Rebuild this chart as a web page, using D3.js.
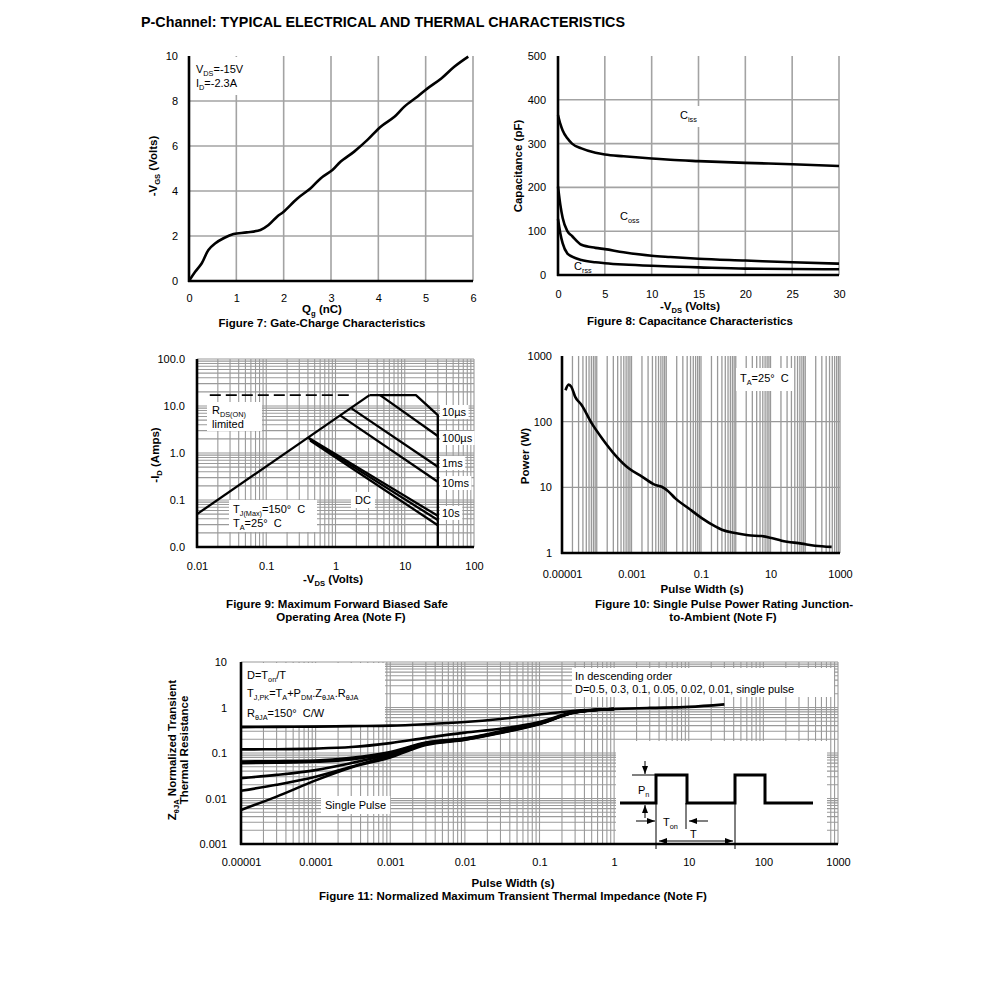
<!DOCTYPE html>
<html><head><meta charset="utf-8">
<script src="https://cdn.jsdelivr.net/npm/d3@7"></script>
<style>body{margin:0;background:#fff}</style>
</head><body>
<script>
// ================= DATA =================
// Figure 7: gate charge
const fig7Qg  = [0,0.13,0.27,0.41,0.55,0.73,0.94,1.22,1.51,1.68,1.86,2.0,2.29,2.57,2.78,3.03,3.2,3.49,3.77,4.05,4.34,4.55,4.83,5.04,5.33,5.61,5.9];
const fig7Vgs = [0,0.41,0.79,1.38,1.67,1.9,2.09,2.16,2.27,2.49,2.86,3.08,3.67,4.12,4.56,4.93,5.3,5.75,6.27,6.86,7.3,7.75,8.2,8.56,9.0,9.53,9.97];
const fig7XTicks = [0,1,2,3,4,5,6];
const fig7YTicks = [0,2,4,6,8,10];

// Figure 8: capacitance
const fig8Vds  = [0,0.25,0.5,1,1.5,2.5,4,5,7,10,12,15,20,25,30];
const fig8Ciss = [365,345,330,312,300,289,279,275,271,266,263,260,256,253,249];
const fig8Coss = [202,160,130,100,89,69,62,59,52,44,41,37,33,29,26];
const fig8Crss = [128,95,72,49,42,34,29,27,24,21,19.5,17.5,14.5,13.7,13];
const fig8XTicks = [0,5,10,15,20,25,30];
const fig8YTicks = [0,100,200,300,400,500];

// Figure 9: SOA (V, A)
const fig9DashV = [0.0153,1.78], fig9DashI = [17,17];
const fig9RdsV  = [0.01,3.1],    fig9RdsI  = [0.05,17];
const fig9Us10V  = [3.1,14.5,30,30], fig9Us10I = [17,17,6.4,0.01];
const fig9Us100V = [4.4,30],  fig9Us100I = [17,2.3];
const fig9Ms1V   = [1.7,30],  fig9Ms1I   = [8.9,0.51];
const fig9Ms10V  = [1.15,30], fig9Ms10I  = [6.4,0.245];
const fig9S10V   = [0.40,30], fig9S10I   = [2.15,0.046];
const fig9DcAV   = [0.415,30], fig9DcAI  = [2.0,0.0375];
const fig9DcBV   = [0.43,30], fig9DcBI   = [1.85,0.029];
const fig9XTicks = [0.01,0.1,1,10,100];
const fig9XLabels = ['0.01','0.1','1','10','100'];
const fig9YTicks = [0.01,0.1,1,10,100];
const fig9YLabels = ['0.0','0.1','1.0','10.0','100.0'];

// Figure 10: single pulse power
const fig10T = [1.26e-5,1.55e-5,1.86e-5,2.4e-5,3.7e-5,7.2e-5,1.41e-4,3.39e-4,8.3e-4,2.0e-3,4.8e-3,7.4e-3,0.0117,0.0182,0.0437,0.105,0.257,0.398,0.955,2.29,5.6,10.7,20.9,79,190,575];
const fig10P = [301,367,339,239,178,94,56,31,19.5,14.6,10.9,10.2,8.6,6.8,4.8,3.4,2.54,2.26,2.01,1.86,1.81,1.69,1.54,1.39,1.29,1.24];
const fig10XTicks = [0.00001,0.001,0.1,10,1000];
const fig10XLabels = ['0.00001','0.001','0.1','10','1000'];
const fig10YTicks = [1,10,100,1000];
const fig10YLabels = ['1','10','100','1000'];

// Figure 11: transient thermal impedance
const fig11T      = [0.00001,0.00003,0.0001,0.0003,0.001,0.003,0.01,0.03,0.1,0.3,1,3,10,30];
const fig11D05    = [0.37,0.375,0.38,0.39,0.40,0.43,0.48,0.56,0.70,0.85,0.93,0.98,1.03,1.17];
const fig11D03    = [0.12,0.121,0.125,0.135,0.165,0.215,0.28,0.34,0.48,0.8,0.93];
const fig11D01    = [0.065,0.066,0.068,0.078,0.105,0.17,0.21,0.30,0.46,0.79,0.93];
const fig11D005   = [0.06,0.061,0.064,0.072,0.10,0.165,0.205,0.29,0.45,0.79,0.93];
const fig11D002   = [0.028,0.033,0.042,0.06,0.095,0.16,0.2,0.285,0.44,0.79,0.93];
const fig11D001   = [0.0148,0.02,0.03,0.05,0.088,0.155,0.197,0.28,0.44,0.79,0.93];
const fig11Single = [0.0056,0.011,0.025,0.048,0.08,0.15,0.195,0.275,0.43,0.78,0.93];
const fig11XTicks = [0.00001,0.0001,0.001,0.01,0.1,1,10,100,1000];
const fig11XLabels = ['0.00001','0.0001','0.001','0.01','0.1','1','10','100','1000'];
const fig11YTicks = [0.001,0.01,0.1,1,10];
const fig11YLabels = ['0.001','0.01','0.1','1','10'];

// ================= DRAWING =================
const FONT = "'Liberation Sans', Arial, Helvetica, sans-serif";
const GRID = '#a3a3a3';
const CAP = 11.5;
const svg = d3.select('body').append('svg').attr('width',991).attr('height',995);
svg.append('rect').attr('width',991).attr('height',995).attr('fill','#fff');

const defs = svg.append('defs');
defs.append('marker').attr('id','arr').attr('viewBox','0 0 8 6').attr('refX',8).attr('refY',3)
  .attr('markerWidth',8).attr('markerHeight',6).attr('markerUnits','userSpaceOnUse').attr('orient','auto-start-reverse')
  .append('path').attr('d','M0,0 L8,3 L0,6 z').attr('fill','#000');

function txt(g, x, y, parts, o={}) {
  const fs = o.size || 11;
  const t = g.append('text').attr('x',x).attr('y',y).attr('font-family',FONT).attr('font-size',fs)
    .attr('font-weight',o.bold?'bold':'normal').attr('text-anchor',o.anchor||'start').attr('fill','#000')
    .style('white-space','pre');
  if (o.rotate) t.attr('transform',`rotate(-90 ${x} ${y})`);
  if (typeof parts === 'string') parts = [parts];
  let shift = 0;
  parts.forEach(p => {
    const isSub = Array.isArray(p);
    const s = isSub ? p[0] : p;
    const target = isSub ? Math.round(fs*0.3) : 0;
    const ts = t.append('tspan').text(s).attr('dy', target - shift);
    if (isSub) ts.attr('font-size', (fs*0.66).toFixed(1));
    shift = target;
  });
  return t;
}
function boxed(g, x, y, parts, o={}, pad=[2,1]) {
  const t = txt(g,x,y,parts,o);
  const b = t.node().getBBox();
  g.insert('rect', () => t.node()).attr('x', b.x-pad[0]).attr('y', b.y-pad[1])
    .attr('width', b.width+2*pad[0]).attr('height', b.height+2*pad[1]).attr('fill','#fff');
  return t;
}
function vgrid(g, x, vals, y0, y1, color, w) {
  g.append('g').selectAll('line').data(vals).join('line')
    .attr('x1',d=>x(d)).attr('x2',d=>x(d)).attr('y1',y0).attr('y2',y1)
    .attr('stroke',color).attr('stroke-width',w);
}
function hgrid(g, y, vals, x0, x1, color, w) {
  g.append('g').selectAll('line').data(vals).join('line')
    .attr('y1',d=>y(d)).attr('y2',d=>y(d)).attr('x1',x0).attr('x2',x1)
    .attr('stroke',color).attr('stroke-width',w);
}
function logMinor(lo, hi) {
  const out=[];
  for (let e=Math.floor(Math.log10(lo)); e<=Math.ceil(Math.log10(hi)); e++)
    for (let k=1;k<=9;k++){ const v=k*Math.pow(10,e); if (v>=lo*0.999 && v<=hi*1.001) out.push(v); }
  return out;
}
function styleAxis(sel){ sel.select('.domain').remove(); sel.attr('font-family',FONT).attr('font-size',11);
  sel.selectAll('text').attr('fill','#000'); }
function axes(g, x, y, xt, xl, yt, yl, padX, padY) {
  const xr = x.range(), yr = y.range();
  g.append('g').attr('transform',`translate(0,${yr[0]})`)
    .call(d3.axisBottom(x).tickValues(xt).tickFormat((d,i)=>xl[i]).tickSize(0).tickPadding(padX)).call(styleAxis);
  g.append('g').attr('transform',`translate(${xr[0]},0)`)
    .call(d3.axisLeft(y).tickValues(yt).tickFormat((d,i)=>yl[i]).tickSize(0).tickPadding(padY)).call(styleAxis);
}
function frame(g, x, y) {
  const xr = x.range(), yr = y.range();
  g.append('line').attr('x1',xr[0]).attr('x2',xr[0]).attr('y1',yr[1]).attr('y2',yr[0]+1).attr('stroke','#000').attr('stroke-width',2.6);
  g.append('line').attr('x1',xr[0]-1).attr('x2',xr[1]).attr('y1',yr[0]).attr('y2',yr[0]).attr('stroke','#000').attr('stroke-width',2.6);
}
function curve(g, xs, ys, x, y, c, w) {
  g.append('path').datum(d3.zip(xs, ys))
    .attr('d', d3.line().x(d=>x(d[0])).y(d=>y(d[1])).curve(c))
    .attr('fill','none').attr('stroke','#000').attr('stroke-width',w||2.6).attr('stroke-linejoin','round');
}

// Title
txt(svg, 141, 27, 'P-Channel: TYPICAL ELECTRICAL AND THERMAL CHARACTERISTICS', {bold:true, size:14})
  .attr('textLength',484).attr('lengthAdjust','spacingAndGlyphs');

// ---------- Figure 7 ----------
{
  const g = svg.append('g');
  const x = d3.scaleLinear().domain([0,6]).range([189,473]);
  const y = d3.scaleLinear().domain([0,10]).range([281,56]);
  vgrid(g, x, fig7XTicks.slice(1), 56, 281, GRID, 1.6);
  hgrid(g, y, fig7YTicks.slice(1,-1), 189, 473, GRID, 1.6);
  g.append('rect').attr('x',191).attr('y',57).attr('width',57).attr('height',38).attr('fill','#fff');
  txt(g, 196, 73, ['V',['DS'],'=-15V']);
  txt(g, 196, 87, ['I',['D'],'=-2.3A']);
  curve(g, fig7Qg, fig7Vgs, x, y, d3.curveCatmullRom, 2.6);
  frame(g, x, y);
  axes(g, x, y, fig7XTicks, fig7XTicks.map(String), fig7YTicks, fig7YTicks.map(String), 13, 11);
  txt(g, 157, 166, ['-V',['GS'],' (Volts)'], {bold:true, anchor:'middle', rotate:true, size:CAP});
  txt(g, 322, 313, ['Q',['g'],' (nC)'], {bold:true, anchor:'middle', size:CAP});
  txt(g, 322, 327, 'Figure 7: Gate-Charge Characteristics', {bold:true, anchor:'middle', size:CAP});
}

// ---------- Figure 8 ----------
{
  const g = svg.append('g');
  const x = d3.scaleLinear().domain([0,30]).range([558,839]);
  const y = d3.scaleLinear().domain([0,500]).range([275,56]);
  vgrid(g, x, fig8XTicks.slice(1), 56, 275, GRID, 1.6);
  hgrid(g, y, fig8YTicks.slice(1,-1), 558, 839, GRID, 1.6);
  boxed(g, 680, 119, ['C',['iss']], {}, [3,3]);
  txt(g, 620, 220, ['C',['oss']]);
  txt(g, 574, 270, ['C',['rss']]);
  curve(g, fig8Vds, fig8Ciss, x, y, d3.curveMonotoneX, 2.6);
  curve(g, fig8Vds, fig8Coss, x, y, d3.curveMonotoneX, 2.6);
  curve(g, fig8Vds, fig8Crss, x, y, d3.curveMonotoneX, 2.6);
  frame(g, x, y);
  axes(g, x, y, fig8XTicks, fig8XTicks.map(String), fig8YTicks, fig8YTicks.map(String), 15, 12);
  txt(g, 522, 166, 'Capacitance (pF)', {bold:true, anchor:'middle', rotate:true, size:CAP});
  txt(g, 690, 310, ['-V',['DS'],' (Volts)'], {bold:true, anchor:'middle', size:CAP});
  txt(g, 690, 325, 'Figure 8: Capacitance Characteristics', {bold:true, anchor:'middle', size:CAP});
}

// ---------- Figure 9 ----------
{
  const g = svg.append('g');
  const x = d3.scaleLog().domain([0.01,100]).range([197,474]);
  const y = d3.scaleLog().domain([0.01,100]).range([547,359]);
  vgrid(g, x, logMinor(0.01,100).slice(1), 359, 547, '#9a9a9a', 1.1);
  hgrid(g, y, logMinor(0.01,100).slice(1), 197, 474, '#9a9a9a', 1.1);
  g.append('path').datum(d3.zip(fig9DashV, fig9DashI))
    .attr('d', d3.line().x(d=>x(d[0])).y(d=>y(d[1])))
    .attr('stroke','#000').attr('stroke-width',1.8).attr('stroke-dasharray','11,5').attr('fill','none');
  g.append('rect').attr('x',207).attr('y',402).attr('width',55).attr('height',29).attr('fill','#fff');
  txt(g, 212, 414, ['R',['DS(ON)']]);
  txt(g, 212, 428, 'limited');
  g.append('rect').attr('x',229).attr('y',500).attr('width',88).attr('height',32).attr('fill','#fff');
  txt(g, 233, 513, ['T',['J(Max)'],'=150°  C']);
  txt(g, 233, 527, ['T',['A'],'=25°  C']);
  boxed(g, 355, 504, 'DC', {}, [4,2]);
  [[fig9RdsV,fig9RdsI],[fig9Us10V,fig9Us10I],[fig9Us100V,fig9Us100I],[fig9Ms1V,fig9Ms1I],
   [fig9Ms10V,fig9Ms10I],[fig9S10V,fig9S10I],[fig9DcAV,fig9DcAI],[fig9DcBV,fig9DcBI]]
    .forEach(([vs,is]) => curve(g, vs, is, x, y, d3.curveLinear, 2.3));
  boxed(g, 442, 416, '10µs', {}, [2,1]);
  boxed(g, 442, 442, '100µs', {}, [2,1]);
  boxed(g, 442, 467, '1ms', {}, [2,1]);
  boxed(g, 442, 487, '10ms', {}, [2,1]);
  boxed(g, 442, 517, '10s', {}, [2,1]);
  frame(g, x, y);
  axes(g, x, y, fig9XTicks, fig9XLabels, fig9YTicks, fig9YLabels, 15, 12);
  txt(g, 159, 455, ['-I',['D'],' (Amps)'], {bold:true, anchor:'middle', rotate:true, size:CAP});
  txt(g, 333, 583, ['-V',['DS'],' (Volts)'], {bold:true, anchor:'middle', size:CAP});
  txt(g, 337, 608, 'Figure 9: Maximum Forward Biased Safe', {bold:true, anchor:'middle', size:CAP});
  txt(g, 341, 621, 'Operating Area (Note F)', {bold:true, anchor:'middle', size:CAP});
}

// ---------- Figure 10 ----------
{
  const g = svg.append('g');
  const x = d3.scaleLog().domain([1e-5,1000]).range([562,840]);
  const y = d3.scaleLog().domain([1,1000]).range([553,356]);
  vgrid(g, x, logMinor(1e-5,1000).slice(1), 356, 553, '#999', 1.3);
  hgrid(g, y, [10,100], 562, 840, '#999', 1.3);
  boxed(g, 740, 382, ['T',['A'],'=25°  C'], {}, [4,4]);
  curve(g, fig10T, fig10P, x, y, d3.curveMonotoneX, 2.6);
  frame(g, x, y);
  axes(g, x, y, fig10XTicks, fig10XLabels, fig10YTicks, fig10YLabels, 17, 10);
  txt(g, 529, 456, 'Power (W)', {bold:true, anchor:'middle', rotate:true, size:CAP});
  txt(g, 702, 593, 'Pulse Width (s)', {bold:true, anchor:'middle', size:CAP});
  txt(g, 724, 608, 'Figure 10: Single Pulse Power Rating Junction-', {bold:true, anchor:'middle', size:CAP});
  txt(g, 723, 621, 'to-Ambient (Note F)', {bold:true, anchor:'middle', size:CAP});
}

// ---------- Figure 11 ----------
{
  const g = svg.append('g');
  const x = d3.scaleLog().domain([1e-5,1000]).range([241,838]);
  const y = d3.scaleLog().domain([0.001,10]).range([844,662]);
  vgrid(g, x, logMinor(1e-5,1000).slice(1), 662, 844, '#9a9a9a', 1.1);
  hgrid(g, y, logMinor(0.001,10).slice(1), 241, 838, '#9a9a9a', 1.1);
  g.append('rect').attr('x',242).attr('y',663).attr('width',143).attr('height',62).attr('fill','#fff');
  txt(g, 247, 679, ['D=T',['on'],'/T']);
  txt(g, 247, 697, ['T',['J,PK'],'=T',['A'],'+P',['DM'],'.Z',['θJA'],'.R',['θJA']]);
  txt(g, 247, 717, ['R',['θJA'],'=150°  C/W']);
  g.append('rect').attr('x',572).attr('y',668).attr('width',262).attr('height',29).attr('fill','#fff');
  txt(g, 575, 680, 'In descending order');
  txt(g, 575, 693, 'D=0.5, 0.3, 0.1, 0.05, 0.02, 0.01, single pulse');
  boxed(g, 325, 809, 'Single Pulse', {}, [4,3]);
  [fig11D05, fig11D03, fig11D01, fig11D005, fig11D002, fig11D001, fig11Single]
    .forEach(s => curve(g, fig11T, s, x, y, d3.curveMonotoneX, 2.6));
  // inset: pulse diagram
  g.append('rect').attr('x',616).attr('y',741).attr('width',211).attr('height',103).attr('fill','#fff');
  const wave = [[620,803],[656,803],[656,775],[687,775],[687,803],[735,803],[735,775],[765,775],[765,803],[813,803]];
  g.append('path').attr('d', d3.line()(wave)).attr('fill','none').attr('stroke','#000').attr('stroke-width',3);
  const thin = (x1,y1,x2,y2,m) => { const l = g.append('line').attr('x1',x1).attr('y1',y1).attr('x2',x2).attr('y2',y2)
      .attr('stroke','#000').attr('stroke-width',1);
    if (m==='end'||m==='both') l.attr('marker-end','url(#arr)');
    if (m==='both') l.attr('marker-start','url(#arr)'); };
  thin(632,775,656,775);
  thin(645,761,645,774,'end');
  thin(645,818,645,805,'end');
  thin(656,803,656,849);
  thin(686,803,686,829);
  thin(735,803,735,849);
  thin(636,821,655,821,'end');
  thin(708,821,689,821,'end');
  thin(659,841,733,841,'both');
  txt(g, 638, 794, ['P',['n']]);
  txt(g, 663, 826, ['T',['on']]);
  txt(g, 690, 838, 'T');
  frame(g, x, y);
  axes(g, x, y, fig11XTicks, fig11XLabels, fig11YTicks, fig11YLabels, 14, 14);
  txt(g, 176, 750, ['Z',['θJA'],' Normalized Transient'], {bold:true, anchor:'middle', rotate:true, size:CAP});
  txt(g, 188, 750, 'Thermal Resistance', {bold:true, anchor:'middle', rotate:true, size:CAP});
  txt(g, 513, 887, 'Pulse Width (s)', {bold:true, anchor:'middle', size:CAP});
  txt(g, 513, 900, 'Figure 11: Normalized Maximum Transient Thermal Impedance (Note F)', {bold:true, anchor:'middle', size:CAP});
}
</script>
</body></html>
